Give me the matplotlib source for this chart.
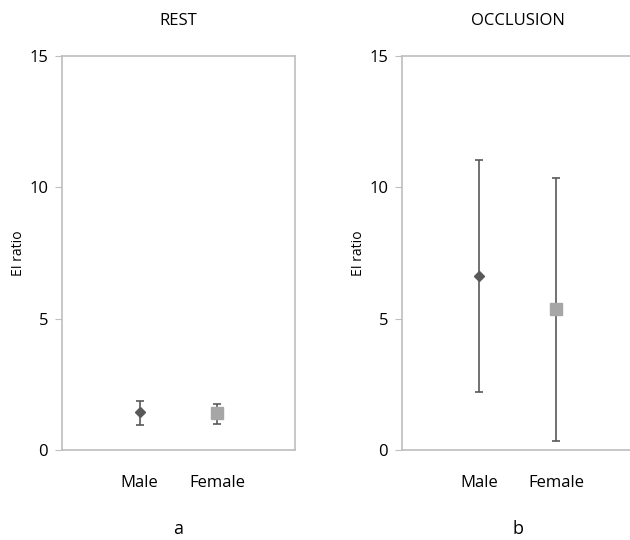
import numpy as np
import matplotlib.pyplot as plt

plt.rcParams['font.family'] = ['Open Sans', 'DejaVu Sans']

groups = ["Male", "Female"]
rest_mean = [1.45, 1.4]
rest_low = [0.95, 1.0]
rest_high = [1.87, 1.75]
occl_mean = [6.62, 5.37]
occl_low = [2.2, 0.33]
occl_high = [11.04, 10.34]

W, H = 630, 540
fig = plt.figure(figsize=(W / 100, H / 100), dpi=100)

spine_col = '#BEBEBE'
err_col = '#595959'
markers = ['D', 's']
mcols = ['#595959', '#A6A6A6']
msizes = [5, 8]


def panel(rect, mean, low, high, title, letter):
    ax = fig.add_axes(rect)
    x = np.arange(1, len(groups) + 1)
    for i in range(len(groups)):
        ax.errorbar(x[i], mean[i],
                    yerr=[[mean[i] - low[i]], [high[i] - mean[i]]],
                    fmt='none', ecolor=err_col, elinewidth=1.2,
                    capsize=3, capthick=1.2, zorder=2)
        ax.plot(x[i], mean[i], marker=markers[i], color=mcols[i],
                markersize=msizes[i], linestyle='none', zorder=3)
    ax.set_xlim(0, 3)
    ax.set_ylim(0, 15)
    ax.set_yticks([0, 5, 10, 15])
    ax.set_xticks(x)
    ax.set_xticklabels(groups, fontsize=12)
    ax.tick_params(axis='x', length=0, pad=18)
    ax.tick_params(axis='y', length=5, color=spine_col, labelsize=12, pad=5)
    for s in ax.spines.values():
        s.set_color(spine_col)
        s.set_linewidth(1.2)
    ax.set_ylabel("EI ratio", fontsize=10)
    ax.yaxis.set_label_coords(-36 / rect[2] / W, 0.5)
    ax.set_title(title, fontsize=12, pad=22)
    ax.text(0.5, -0.2, letter, transform=ax.transAxes, ha='center',
            va='center', fontsize=13)
    return ax


panel([62 / W, 1 - 450 / H, 233 / W, 394 / H], rest_mean, rest_low, rest_high, "REST", "a")
panel([402 / W, 1 - 450 / H, 231 / W, 394 / H], occl_mean, occl_low, occl_high, "OCCLUSION", "b")

fig.savefig("out.png", dpi=100)
